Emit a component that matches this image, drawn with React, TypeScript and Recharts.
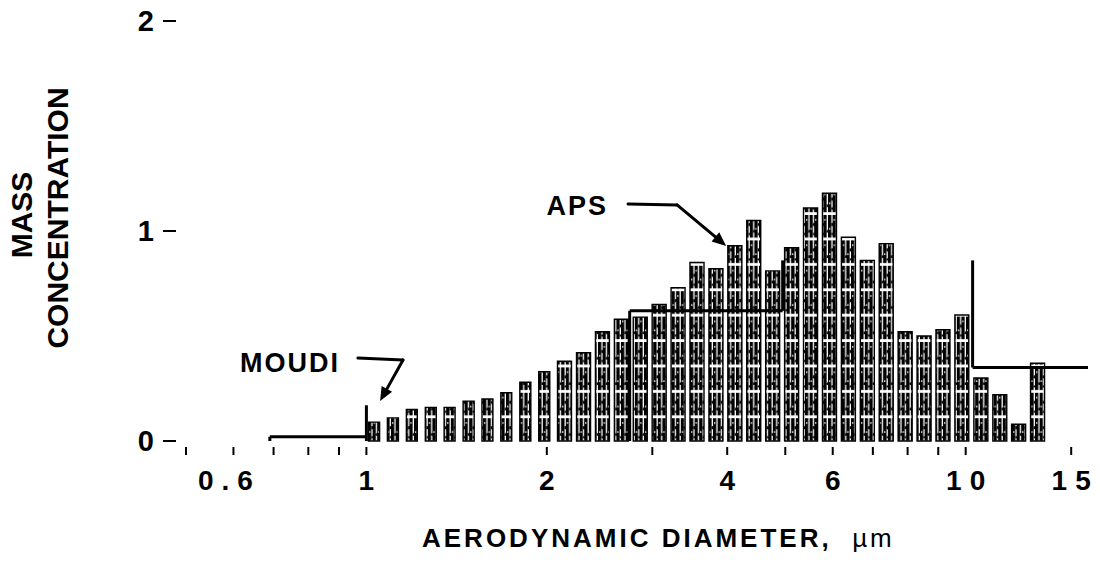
import React from 'react';
import { ComposedChart, XAxis, YAxis, ReferenceArea, ReferenceLine } from 'recharts';

// APS channels: lower / upper aerodynamic diameter (µm) of each drawn bar, and mass concentration
const apsLower = [
  1.008, 1.084, 1.166, 1.254, 1.348, 1.45, 1.559, 1.676, 1.803, 1.939,
  2.084, 2.242, 2.411, 2.593, 2.788, 2.998, 3.224, 3.467, 3.729, 4.01,
  4.312, 4.637, 4.987, 5.363, 5.768, 6.203, 6.671, 7.173, 7.714, 8.296,
  8.921, 9.594, 10.32, 11.1, 11.93, 12.83,
];
const apsUpper = [
  1.052, 1.131, 1.216, 1.308, 1.406, 1.513, 1.626, 1.748, 1.881, 2.023,
  2.199, 2.366, 2.544, 2.736, 2.942, 3.164, 3.402, 3.659, 3.935, 4.232,
  4.55, 4.893, 5.263, 5.66, 6.087, 6.546, 7.04, 7.57, 8.141, 8.755,
  9.414, 10.12, 10.89, 11.71, 12.59, 13.54,
];
const apsMass = [
  0.09, 0.11, 0.15, 0.16, 0.16, 0.19, 0.2, 0.23, 0.28, 0.33,
  0.38, 0.42, 0.52, 0.58, 0.59, 0.65, 0.73, 0.85, 0.82, 0.93,
  1.05, 0.81, 0.92, 1.11, 1.18, 0.97, 0.86, 0.94, 0.52, 0.5,
  0.53, 0.6, 0.3, 0.22, 0.08, 0.37,
];

// MOUDI impactor stages: cut-point edges (µm) and stage mass concentration
const moudiEdges = [0.69, 1.0, 2.75, 4.95, 10.27, 16];
const moudiMass = [0.02, 0.17, 0.62, 0.86, 0.35];
// level each stage's riser starts from, and whether the stage top is inked
const moudiRiseFrom = [0, 0, 0, 0.62, 0.86];
const moudiTopInked = [true, false, true, false, true];

// axes
const xDomain = [0.5, 16];
const xTicks = [0.5, 0.6, 0.7, 0.8, 0.9, 1, 2, 3, 4, 5, 6, 7, 8, 9, 10, 15];
const xTickLabels: Record<string, string> = { '0.6': '0.6', '1': '1', '2': '2', '4': '4', '6': '6', '10': '10', '15': '15' };
const yTicks = [0, 1, 2];

// annotation callouts, in data coordinates: [start, bend, tip]
const apsCallout = { text: 'APS', pts: [[2.733, 1.129], [3.299, 1.124], [3.984, 0.929]] };
const moudiCallout = { text: 'MOUDI', pts: [[0.968, 0.395], [1.151, 0.386], [1.054, 0.19]] };

const FONT = "'Liberation Sans', Arial, Helvetica, sans-serif";

const moudiSegments: { a: [number, number]; b: [number, number] }[] = [];
moudiMass.forEach((v, i) => {
  const lo = moudiEdges[i];
  const hi = moudiEdges[i + 1];
  moudiSegments.push({ a: [lo, moudiRiseFrom[i]], b: [lo, v] });
  if (moudiTopInked[i]) moudiSegments.push({ a: [lo, v], b: [hi, v] });
});

const XTick = (props: any) => {
  const { x, y, payload } = props;
  const label = xTickLabels[String(payload.value)];
  const shift = label === '0.6' ? -4 : 4;
  return (
    <g>
      <line x1={x} x2={x} y1={y + 6} y2={y + 14} stroke="#000" strokeWidth={2} />
      {label && (
        <text x={x + shift} y={y + 49} textAnchor="middle" fontFamily={FONT} fontWeight={700} fontSize={28}
          style={{ letterSpacing: 8 }} fill="#000">
          {label}
        </text>
      )}
    </g>
  );
};

const YTick = (props: any) => {
  const { x, y, payload } = props;
  return (
    <g>
      <text x={x - 32} y={y + 10} textAnchor="end" fontFamily={FONT} fontWeight={700} fontSize={29} fill="#000">
        {payload.value}
      </text>
      <line x1={x - 23} x2={x - 10} y1={y} y2={y} stroke="#000" strokeWidth={2} />
    </g>
  );
};

const XTitle = (props: any) => {
  const vb = props.viewBox || { x: 186, y: 441 };
  return (
    <text x={vb.x + 236} y={vb.y + 106} fontFamily={FONT} fontWeight={700} fontSize={26} fill="#000"
      style={{ letterSpacing: 3 }}>
      AERODYNAMIC DIAMETER,{'\u00a0\u00a0'}
      <tspan fontWeight={400}>µm</tspan>
    </text>
  );
};

const YTitle = (props: any) => {
  const vb = props.viewBox || { x: 0, y: 21, height: 420 };
  const cy = vb.y + 194;
  return (
    <g fontFamily={FONT} fontWeight={700} fontSize={30} fill="#000">
      <text transform={`translate(${vb.x + 32},${cy}) rotate(-90)`} textAnchor="middle">MASS</text>
      <text transform={`translate(${vb.x + 68},${cy + 3}) rotate(-90)`} textAnchor="middle">CONCENTRATION</text>
    </g>
  );
};

// a straight pen stroke; optionally finished with an arrowhead or prefixed by a label
const makeStroke = (opts: { arrow?: boolean; label?: string; labelDx?: number; labelDy?: number }) => (p: any) => {
  const { x1, y1, x2, y2 } = p;
  const ang = Math.atan2(y2 - y1, x2 - x1);
  const L = 14;
  const W = 6;
  const bx = x2 - L * Math.cos(ang);
  const by = y2 - L * Math.sin(ang);
  const px = -Math.sin(ang) * W;
  const py = Math.cos(ang) * W;
  return (
    <g>
      <line x1={x1} y1={y1} x2={opts.arrow ? bx : x2} y2={opts.arrow ? by : y2} stroke="#000" strokeWidth={3} strokeLinecap="round" />
      {opts.arrow && <polygon points={`${x2},${y2} ${bx + px},${by + py} ${bx - px},${by - py}`} fill="#000" />}
      {opts.label && (
        <text x={x1 - (opts.labelDx || 0)} y={y1 + (opts.labelDy || 0)} textAnchor="end" fontFamily={FONT}
          fontWeight={700} fontSize={27} style={{ letterSpacing: 2 }} fill="#000">
          {opts.label}
        </text>
      )}
    </g>
  );
};

const callout = (c: { text: string; pts: number[][] }, key: string, dx: number, dy: number) => [
  <ReferenceLine key={`${key}-a`} ifOverflow="visible"
    segment={[{ x: c.pts[0][0], y: c.pts[0][1] }, { x: c.pts[1][0], y: c.pts[1][1] }]}
    shape={makeStroke({ label: c.text, labelDx: dx, labelDy: dy })} />,
  <ReferenceLine key={`${key}-b`} ifOverflow="visible"
    segment={[{ x: c.pts[1][0], y: c.pts[1][1] }, { x: c.pts[2][0], y: c.pts[2][1] }]}
    shape={makeStroke({ arrow: true })} />,
];

export default function App() {
  return (
    <div style={{ width: 1100, height: 572, margin: '-8px 0 0 -8px', background: '#fff' }}>
      <ComposedChart width={1100} height={572} data={[]} margin={{ top: 21, right: 12, bottom: 41, left: 0 }}>
        <defs>
          <pattern id="apsHatch" patternUnits="userSpaceOnUse" x={0} y={11.8} width={9.2} height={25.4}>
            <rect width={9.2} height={25.4} fill="#fff" />
            <rect x={0} y={0} width={3.3} height={22.6} fill="#000" />
            <rect x={4.6} y={0} width={3.3} height={22.6} fill="#000" />
            <rect x={3.3} y={8} width={1.3} height={3} fill="#000" />
            <rect x={7.9} y={15} width={1.3} height={2.5} fill="#000" />
            <rect x={3.3} y={18} width={1.3} height={2} fill="#000" />
            <rect x={1.0} y={13} width={1.2} height={1.6} fill="#fff" />
            <rect x={5.6} y={4} width={1.2} height={1.6} fill="#fff" />
          </pattern>
        </defs>
        <XAxis type="number" dataKey="d" scale="log" domain={xDomain} allowDataOverflow ticks={xTicks} interval={0}
          axisLine={false} tickLine={false} tickSize={0} tickMargin={0} height={90} tick={<XTick />}
          label={{ content: XTitle }} />
        <YAxis type="number" domain={[0, 2]} allowDataOverflow ticks={yTicks} interval={0} width={186}
          axisLine={false} tickLine={false} tickSize={0} tickMargin={0} tick={<YTick />}
          label={{ content: YTitle }} />
        {apsMass.map((v, i) => (
          <ReferenceArea key={`aps-${i}`} x1={apsLower[i]} x2={apsUpper[i]} y1={0} y2={v}
            fill="url(#apsHatch)" fillOpacity={1} stroke="#000" strokeWidth={1.4} ifOverflow="visible" />
        ))}
        {moudiSegments.map((s, i) => (
          <ReferenceLine key={`moudi-${i}`} ifOverflow="visible" stroke="#000" strokeWidth={3}
            segment={[{ x: s.a[0], y: s.a[1] }, { x: s.b[0], y: s.b[1] }]} />
        ))}
        {callout(apsCallout, 'aps', 20, 11)}
        {callout(moudiCallout, 'moudi', 18, 14)}
      </ComposedChart>
    </div>
  );
}
